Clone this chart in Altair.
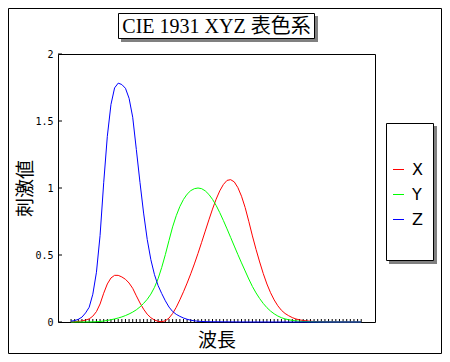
import altair as alt
import pandas as pd

# CIE 1931 2-degree colour matching functions, 380-780 nm at 5 nm
wavelengths = list(range(380, 785, 5))
x_bar = [0.001368, 0.002236, 0.004243, 0.007650, 0.014310, 0.023190, 0.043510, 0.077630,
         0.134380, 0.214770, 0.283900, 0.328500, 0.348280, 0.348060, 0.336200, 0.318700,
         0.290800, 0.251100, 0.195360, 0.142100, 0.095640, 0.057950, 0.032010, 0.014700,
         0.004900, 0.002400, 0.009300, 0.029100, 0.063270, 0.109600, 0.165500, 0.225750,
         0.290400, 0.359700, 0.433450, 0.512050, 0.594500, 0.678400, 0.762100, 0.842500,
         0.916300, 0.978600, 1.026300, 1.056700, 1.062200, 1.045600, 1.002600, 0.938400,
         0.854450, 0.751400, 0.642400, 0.541900, 0.447900, 0.360800, 0.283500, 0.218700,
         0.164900, 0.121200, 0.087400, 0.063600, 0.046770, 0.032900, 0.022700, 0.015840,
         0.011359, 0.008111, 0.005790, 0.004109, 0.002899, 0.002049, 0.001440, 0.001000,
         0.000690, 0.000476, 0.000332, 0.000235, 0.000166, 0.000117, 0.000083, 0.000059,
         0.000042]
y_bar = [0.000039, 0.000064, 0.000120, 0.000217, 0.000396, 0.000640, 0.001210, 0.002180,
         0.004000, 0.007300, 0.011600, 0.016840, 0.023000, 0.029800, 0.038000, 0.048000,
         0.060000, 0.073900, 0.090980, 0.112600, 0.139020, 0.169300, 0.208020, 0.258600,
         0.323000, 0.407300, 0.503000, 0.608200, 0.710000, 0.793200, 0.862000, 0.914850,
         0.954000, 0.980300, 0.994950, 1.000000, 0.995000, 0.978600, 0.952000, 0.915400,
         0.870000, 0.816300, 0.757000, 0.694900, 0.631000, 0.566800, 0.503000, 0.441200,
         0.381000, 0.321000, 0.265000, 0.217000, 0.175000, 0.138200, 0.107000, 0.081600,
         0.061000, 0.044580, 0.032000, 0.023200, 0.017000, 0.011920, 0.008210, 0.005723,
         0.004102, 0.002929, 0.002091, 0.001484, 0.001047, 0.000740, 0.000520, 0.000361,
         0.000249, 0.000172, 0.000120, 0.000085, 0.000060, 0.000042, 0.000030, 0.000021,
         0.000015]
z_bar = [0.006450, 0.010550, 0.020050, 0.036210, 0.067850, 0.110200, 0.207400, 0.371300,
         0.645600, 1.039050, 1.385600, 1.622960, 1.747060, 1.782600, 1.772110, 1.744100,
         1.669200, 1.528100, 1.287640, 1.041900, 0.812950, 0.616200, 0.465180, 0.353300,
         0.272000, 0.212300, 0.158200, 0.111700, 0.078250, 0.057250, 0.042160, 0.029840,
         0.020300, 0.013400, 0.008750, 0.005750, 0.003900, 0.002750, 0.002100, 0.001800,
         0.001650, 0.001400, 0.001100, 0.001000, 0.000800, 0.000600, 0.000340, 0.000240,
         0.000190, 0.000100, 0.000050, 0.000030, 0.000020, 0.000010, 0.000000, 0.000000,
         0.0, 0.0, 0.0, 0.0, 0.0, 0.0, 0.0, 0.0, 0.0, 0.0, 0.0, 0.0, 0.0, 0.0, 0.0, 0.0,
         0.0, 0.0, 0.0, 0.0, 0.0, 0.0, 0.0, 0.0, 0.0]

series_names = ["X", "Y", "Z"]
series_colors = ["#FF0000", "#00FF00", "#0000FF"]
y_ticks = [0, 0.5, 1, 1.5, 2]
title_text = "CIE 1931 XYZ 表色系"
x_title = "波長"
y_title = "刺激値"

df = pd.DataFrame({"wl": wavelengths, "X": x_bar, "Y": y_bar, "Z": z_bar})
ytick_df = pd.DataFrame({"v": y_ticks})

W, H = 317, 268
xscale = alt.Scale(domain=[362, 799], nice=False, zero=False)
yscale = alt.Scale(domain=[0, 2], nice=False, zero=False)
one = alt.Data(values=[{}])

def box(x, x2, y, y2, **kw):
    return alt.Chart(one).mark_rect(**kw).encode(
        x=alt.value(x), x2=alt.value(x2), y=alt.value(y), y2=alt.value(y2))

def rule(x, x2, y, y2, **kw):
    return alt.Chart(one).mark_rule(**kw).encode(
        x=alt.value(x), x2=alt.value(x2), y=alt.value(y), y2=alt.value(y2))

layers = []
# chart object area
layers.append(box(-49.5, 383.5, -45.5, 299.5, fill="white", stroke="black", strokeWidth=1))
# plot frame
layers.append(box(0.5, W + 0.5, 0.5, H + 0.5, fillOpacity=0, stroke="black", strokeWidth=1))

# axes (labels/titles only) carried by an invisible layer
base = alt.Chart(df).mark_point(opacity=0).encode(
    x=alt.X("wl:Q", scale=xscale,
            axis=alt.Axis(labels=False, ticks=False, domain=False, grid=False, title=x_title,
                          titleFont="Noto Sans CJK JP", titleFontSize=19, titleFontWeight="normal",
                          titleColor="black", titleX=158.5, titleY=18, titleBaseline="middle",
                          titleAlign="center", zindex=1)),
    y=alt.Y("Y:Q", scale=yscale,
            axis=alt.Axis(values=y_ticks, ticks=False, tickSize=0, domain=False, grid=False,
                          labelFont="DejaVu Sans Mono", labelFontSize=10, labelColor="black",
                          labelPadding=5, labelExpr="datum.value == 0 ? '0' : format(datum.value, '')",
                          title=y_title, titleFont="Noto Sans CJK JP", titleFontSize=19,
                          titleFontWeight="normal", titleColor="black", titleAngle=270,
                          titleX=-33, titleY=134, titleBaseline="middle", titleAlign="center",
                          zindex=1)),
)
layers.append(base)

# x ticks (inside, pointing up)
layers.append(alt.Chart(df).mark_rule(color="black", strokeWidth=1).encode(
    x=alt.X("wl:Q", scale=xscale), y=alt.value(H), y2=alt.value(H - 3)))
# y ticks (inside, pointing right)
layers.append(alt.Chart(ytick_df).mark_rule(color="black", strokeWidth=1).encode(
    y=alt.Y("v:Q", scale=yscale), x=alt.value(0), x2=alt.value(4)))

# curves
for name, col in zip(series_names, series_colors):
    layers.append(alt.Chart(df).mark_line(color=col, strokeWidth=1).encode(
        x=alt.X("wl:Q", scale=xscale), y=alt.Y(f"{name}:Q", scale=yscale)))

# title box with shadow
layers.append(box(63, 260, -38, -12, fill="#808080"))
layers.append(box(60.5, 256.5, -40.5, -15.5, fill="white", stroke="black", strokeWidth=1))
layers.append(alt.Chart(one).mark_text(font="Liberation Serif, Noto Sans CJK JP", fontSize=20,
                                       color="black", align="center", baseline="middle").encode(
    x=alt.value(158.5), y=alt.value(-27.5), text=alt.value(title_text)))

# legend box with shadow
layers.append(box(331, 379, 72, 210, fill="#808080"))
layers.append(box(328.5, 375.5, 69.5, 206.5, fill="white", stroke="black", strokeWidth=1))
for i, (name, col) in enumerate(zip(series_names, series_colors)):
    yy = 115.5 + 25 * i
    layers.append(rule(335, 346, yy, yy, color=col, strokeWidth=1))
    layers.append(alt.Chart(one).mark_text(font="DejaVu Sans", fontSize=16, color="black",
                                           align="left", baseline="middle").encode(
        x=alt.value(354), y=alt.value(yy), text=alt.value(name)))

chart = alt.layer(*layers).properties(
    width=W, height=H,
    autosize=alt.AutoSizeParams(type="none"),
    padding={"left": 50, "top": 46, "right": 67, "bottom": 32},
    background="white",
).configure_view(strokeWidth=0)

chart.save("out.html", embed_options={"renderer": "svg", "actions": False})
